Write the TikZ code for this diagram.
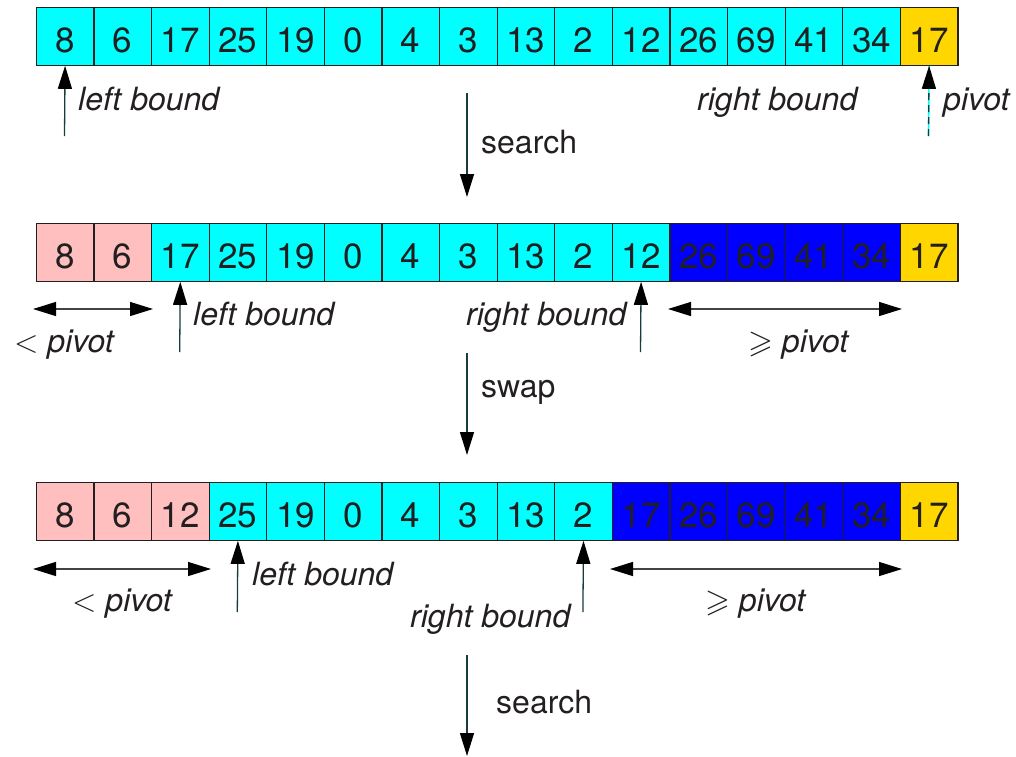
\RequirePackage{fix-cm}
\documentclass[tikz,border=0pt]{standalone}
\usepackage{fontspec}
\usepackage{amssymb}
\setmainfont{TeX Gyre Heros}
\usetikzlibrary{arrows.meta}

\definecolor{cellcyan}{RGB}{0,255,255}
\definecolor{cellpink}{RGB}{255,191,191}
\definecolor{cellblue}{RGB}{0,0,255}
\definecolor{cellgold}{RGB}{255,214,0}
\definecolor{ink}{RGB}{35,31,32}
\definecolor{shaft}{RGB}{25,60,60}

\tikzset{
  cell/.style={draw=ink, line width=1.2pt, minimum width=57.6pt, minimum height=57.6pt,
    inner sep=0pt, anchor=north west, text=ink, text height=33pt, text depth=0pt,
    font=\fontsize{35}{40}\selectfont},
  ptr/.style={draw=shaft, line width=1.3pt, -{Triangle[length=23pt,width=14pt,color=black]}},
  span/.style={draw=ink!85, line width=1.3pt,
    {Triangle[length=23pt,width=14pt,color=black]}-{Triangle[length=23pt,width=14pt,color=black]}},
  lbl/.style={anchor=base west, inner sep=0pt, text=ink, font=\fontsize{32}{36}\selectfont\itshape},
  act/.style={anchor=base west, inner sep=0pt, text=ink, font=\fontsize{32}{36}\selectfont},
}

\begin{document}
\begin{tikzpicture}[x=1pt,y=-1pt]
\useasboundingbox (0,0) rectangle (1016,756);

% ---- array before the search
\foreach \v/\c [count=\i from 0] in {8/cellcyan,6/cellcyan,17/cellcyan,25/cellcyan,19/cellcyan,
  0/cellcyan,4/cellcyan,3/cellcyan,13/cellcyan,2/cellcyan,12/cellcyan,26/cellcyan,69/cellcyan,
  41/cellcyan,34/cellcyan,17/cellgold}
  \node[cell, fill=\c] (a\i) at ({35.7+57.6*\i},7) {\v};

\coordinate (aL) at (64.5,136);
\coordinate (aP) at (928.5,136);
\draw[ptr] (aL) -- (a0.south);
\draw[draw=cellcyan, line width=1.6pt] (aP) -- (a15.south);
\draw[ptr, dash pattern=on 7pt off 5pt] (aP) -- (a15.south);
\node[lbl] (aLt) at (78,110) {left bound};
\node[lbl] (aRt) at (697,110) {right bound};
\node[lbl] (aPt) at (943,110) {pivot};

\coordinate (s1a) at (467,93);
\coordinate (s1b) at (467,197);
\draw[ptr] (s1a) -- (s1b);
\node[act] (s1t) at (481,153) {search};

% ---- array after the search
\foreach \v/\c [count=\i from 0] in {8/cellpink,6/cellpink,17/cellcyan,25/cellcyan,19/cellcyan,
  0/cellcyan,4/cellcyan,3/cellcyan,13/cellcyan,2/cellcyan,12/cellcyan,26/cellblue,69/cellblue,
  41/cellblue,34/cellblue,17/cellgold}
  \node[cell, fill=\c] (b\i) at ({35.7+57.6*\i},223) {\v};

\coordinate (bL) at (179.7,352);
\coordinate (bR) at (640.5,352);
\draw[ptr] (bL) -- (b2.south);
\draw[ptr] (bR) -- (b10.south);
\node[lbl] (bLt) at (193,325) {left bound};
\node[lbl] (bRt) at (466,325) {right bound};

\coordinate (bLo1) at (33,309);
\coordinate (bLo2) at (153,309);
\coordinate (bHi1) at (668,309);
\coordinate (bHi2) at (902,309);
\draw[span] (bLo1) -- (bLo2);
\draw[span] (bHi1) -- (bHi2);
\node[lbl] (bLot) at (14,352) {\upshape$<$\ \itshape pivot};
\node[lbl] (bHit) at (748,352) {\upshape$\geqslant$\ \itshape pivot};

\coordinate (s2a) at (467,353);
\coordinate (s2b) at (467,455);
\draw[ptr] (s2a) -- (s2b);
\node[act] (s2t) at (481,397) {swap};

% ---- array after the swap
\foreach \v/\c [count=\i from 0] in {8/cellpink,6/cellpink,12/cellpink,25/cellcyan,19/cellcyan,
  0/cellcyan,4/cellcyan,3/cellcyan,13/cellcyan,2/cellcyan,17/cellblue,26/cellblue,69/cellblue,
  41/cellblue,34/cellblue,17/cellgold}
  \node[cell, fill=\c] (c\i) at ({35.7+57.6*\i},482) {\v};

\coordinate (cL) at (237.3,612);
\coordinate (cR) at (582.9,612);
\draw[ptr] (cL) -- (c3.south);
\draw[ptr] (cR) -- (c9.south);
\node[lbl] (cLt) at (252,585) {left bound};
\node[lbl] (cRt) at (410,627) {right bound};

\coordinate (cLo1) at (33,569);
\coordinate (cLo2) at (211,569);
\coordinate (cHi1) at (610,569);
\coordinate (cHi2) at (902,569);
\draw[span] (cLo1) -- (cLo2);
\draw[span] (cHi1) -- (cHi2);
\node[lbl] (cLot) at (72,611) {\upshape$<$\ \itshape pivot};
\node[lbl] (cHit) at (705,611) {\upshape$\geqslant$\ \itshape pivot};

\coordinate (s3a) at (467,655);
\coordinate (s3b) at (467,756);
\draw[ptr] (s3a) -- (s3b);
\node[act] (s3t) at (496,713) {search};
\end{tikzpicture}
\end{document}
